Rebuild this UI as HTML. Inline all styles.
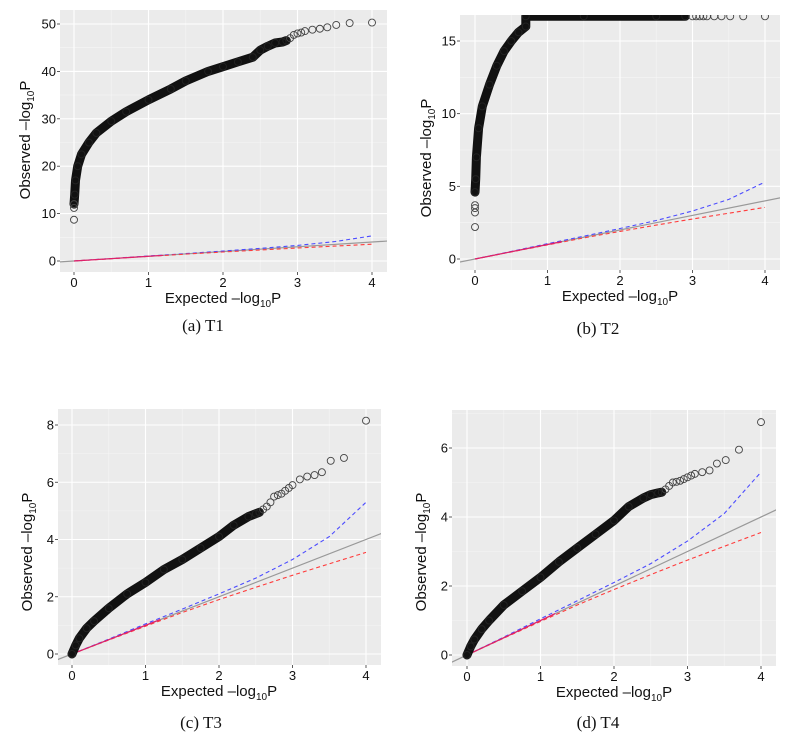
<!DOCTYPE html>
<html><head><meta charset="utf-8"><style>
body{margin:0;background:#fff;}
svg{display:block;}
</style></head><body>
<svg id="fig" width="793" height="738" xmlns="http://www.w3.org/2000/svg"></svg>
<script>
// ---- Data ----
const ciX = [0, 0.5, 1, 1.5, 2, 2.5, 3, 3.5, 4];
const ciUpper = [0, 0.52, 1.05, 1.57, 2.1, 2.65, 3.3, 4.1, 5.3];
const ciLower = [0, 0.49, 0.97, 1.45, 1.9, 2.33, 2.75, 3.15, 3.55];

const aBandX = [0, 0.01, 0.02, 0.05, 0.1, 0.2, 0.3, 0.5, 0.7, 1, 1.3, 1.5, 1.8, 2, 2.2, 2.4, 2.5, 2.6, 2.7, 2.8, 2.85];
const aBandY = [12, 14, 17, 20, 22.5, 25, 27, 29.5, 31.5, 34, 36.3, 38, 40, 41, 42, 43, 44.5, 45.3, 46, 46.2, 46.5];
const aTailX = [0, 0, 0, 2.9, 2.95, 3.0, 3.05, 3.1, 3.2, 3.3, 3.4, 3.52, 3.7, 4];
const aTailY = [8.7, 11.2, 12, 47, 47.7, 48, 48.2, 48.5, 48.8, 49, 49.3, 49.8, 50.2, 50.3];

const bBandX = [0, 0.01, 0.02, 0.05, 0.1, 0.2, 0.3, 0.4, 0.5, 0.6, 0.7, 0.7, 1.5, 2.5, 2.9];
const bBandY = [4.6, 5.5, 7, 9, 10.5, 12, 13.3, 14.3, 15, 15.6, 16, 16.7, 16.7, 16.7, 16.7];
const bTailX = [0, 0, 0, 0, 3.0, 3.05, 3.1, 3.15, 3.2, 3.3, 3.4, 3.52, 3.7, 4];
const bTailY = [2.2, 3.2, 3.5, 3.7, 16.7, 16.7, 16.7, 16.7, 16.7, 16.7, 16.7, 16.7, 16.7, 16.7];

const cBandX = [0, 0.05, 0.1, 0.2, 0.3, 0.5, 0.75, 1, 1.25, 1.5, 1.75, 2, 2.2, 2.4, 2.5, 2.55];
const cBandY = [0, 0.3, 0.55, 0.9, 1.15, 1.6, 2.1, 2.5, 2.95, 3.3, 3.7, 4.1, 4.5, 4.8, 4.9, 4.95];
const cTailX = [2.6, 2.65, 2.7, 2.75, 2.8, 2.85, 2.9, 2.95, 3.0, 3.1, 3.2, 3.3, 3.4, 3.52, 3.7, 4];
const cTailY = [5.05, 5.15, 5.3, 5.5, 5.55, 5.6, 5.7, 5.8, 5.9, 6.1, 6.2, 6.25, 6.35, 6.75, 6.85, 8.15];

const dBandX = [0, 0.05, 0.1, 0.2, 0.3, 0.5, 0.75, 1, 1.25, 1.5, 1.75, 2, 2.2, 2.4, 2.5, 2.6, 2.65];
const dBandY = [0, 0.25, 0.45, 0.75, 1.0, 1.45, 1.85, 2.25, 2.7, 3.1, 3.5, 3.9, 4.3, 4.55, 4.65, 4.7, 4.72];
const dTailX = [2.7, 2.75, 2.8, 2.85, 2.9, 2.95, 3.0, 3.05, 3.1, 3.2, 3.3, 3.4, 3.52, 3.7, 4];
const dTailY = [4.8, 4.9, 5.0, 5.02, 5.05, 5.1, 5.15, 5.2, 5.25, 5.3, 5.35, 5.55, 5.65, 5.95, 6.75];

const xTicks = [0, 1, 2, 3, 4];
const aYTicks = [0, 10, 20, 30, 40, 50];
const bYTicks = [0, 5, 10, 15];
const cYTicks = [0, 2, 4, 6, 8];
const dYTicks = [0, 2, 4, 6];

// ---- Rendering ----
const NS = "http://www.w3.org/2000/svg";
const svg = document.getElementById('fig');
function mk(tag, attrs, parent) {
  const e = document.createElementNS(NS, tag);
  for (const k in attrs) e.setAttribute(k, attrs[k]);
  (parent || svg).appendChild(e);
  return e;
}

const panels = [
  {id:'a', cap:'(a) T1', L:60, R:387, T:10, B:272, x0:74, x4:372, yv0:0, yp0:261, yv1:50, yp1:24,
   yt:aYTicks, minorY:5, bx:aBandX, by:aBandY, tx:aTailX, ty:aTailY, capY:331, capX:203, ytX:30, ytY:140},
  {id:'b', cap:'(b) T2', L:460, R:780, T:15, B:270, x0:475, x4:765, yv0:0, yp0:259, yv1:15, yp1:41,
   yt:bYTicks, minorY:2.5, bx:bBandX, by:bBandY, tx:bTailX, ty:bTailY, capY:334, capX:598, ytX:431, ytY:158},
  {id:'c', cap:'(c) T3', L:58, R:381, T:409, B:665, x0:72, x4:366, yv0:0, yp0:654, yv1:8, yp1:425,
   yt:cYTicks, minorY:1, bx:cBandX, by:cBandY, tx:cTailX, ty:cTailY, capY:728, capX:201, ytX:32, ytY:552},
  {id:'d', cap:'(d) T4', L:452, R:776, T:410, B:666, x0:467, x4:761, yv0:0, yp0:655, yv1:6, yp1:448,
   yt:dYTicks, minorY:1, bx:dBandX, by:dBandY, tx:dTailX, ty:dTailY, capY:728, capX:598, ytX:426, ytY:552}
];

panels.forEach(p => {
  const sx = v => p.x0 + (p.x4 - p.x0) * v / 4;
  const sy = v => p.yp0 + (p.yp1 - p.yp0) * (v - p.yv0) / (p.yv1 - p.yv0);
  const g = mk('g', {});
  
  
  const clipId = 'clip' + p.id;
  const cp = mk('clipPath', {id: clipId}, g);
  mk('rect', {x:p.L, y:p.T, width:p.R-p.L, height:p.B-p.T}, cp);
  const bg = mk('rect', {x:p.L, y:p.T, width:p.R-p.L, height:p.B-p.T, fill:'#ebebeb'}, g);
  
  
  const vMin = (p.L - p.x0) / (p.x4 - p.x0) * 4, vMax = (p.R - p.x0) / (p.x4 - p.x0) * 4;
  for (let v = -0.5; v <= 4.6; v += 1) {
    if (v < vMin || v > vMax) continue;
    mk('line', {x1:sx(v), x2:sx(v), y1:p.T, y2:p.B, stroke:'#f5f5f5', 'stroke-width':0.6}, g);
  }
  const yTop = p.yv0 + (p.T - p.yp0) / (p.yp1 - p.yp0) * (p.yv1 - p.yv0);
  for (let v = -p.minorY; v <= yTop; v += p.minorY * 2) {
    const yy = sy(v); if (yy < p.T || yy > p.B) continue;
    mk('line', {x1:p.L, x2:p.R, y1:yy, y2:yy, stroke:'#f5f5f5', 'stroke-width':0.6}, g);
  }
  xTicks.forEach(t => {
    mk('line', {x1:sx(t), x2:sx(t), y1:p.T, y2:p.B, stroke:'#fff', 'stroke-width':1.1}, g);
    mk('line', {x1:sx(t), x2:sx(t), y1:p.B, y2:p.B+3, stroke:'#333', 'stroke-width':0.8}, g);
    const tl = mk('text', {x:sx(t), y:p.B+15, 'text-anchor':'middle', 'font-size':13, fill:'#111', 'font-family':'Liberation Sans, sans-serif'}, g);
    tl.textContent = t;
    
    
  });
  p.yt.forEach(t => {
    mk('line', {x1:p.L, x2:p.R, y1:sy(t), y2:sy(t), stroke:'#fff', 'stroke-width':1.1}, g);
    mk('line', {x1:p.L-3, x2:p.L, y1:sy(t), y2:sy(t), stroke:'#333', 'stroke-width':0.8}, g);
    const tl = mk('text', {x:p.L-4, y:sy(t)+4.5, 'text-anchor':'end', 'font-size':13, fill:'#111', 'font-family':'Liberation Sans, sans-serif'}, g);
    tl.textContent = t;
    
    
  });
  const cg = mk('g', {'clip-path':'url(#'+clipId+')'}, g);
  const ref = mk('line', {x1:sx(-1), y1:sy(-1), x2:sx(5), y2:sy(5), stroke:'#999', 'stroke-width':1.2}, cg);
  
  
  const mkPath = (xs, ys) => xs.map((x, i) => (i ? 'L' : 'M') + sx(x).toFixed(1) + ',' + sy(ys[i]).toFixed(1)).join('');
  const up = mk('path', {d:mkPath(ciX, ciUpper), fill:'none', stroke:'#4b4bff', 'stroke-width':1.1, 'stroke-dasharray':'4,3'}, cg);
  
  
  const lo = mk('path', {d:mkPath(ciX, ciLower), fill:'none', stroke:'#ff3b3b', 'stroke-width':1.1, 'stroke-dasharray':'4,3'}, cg);
  
  
  const solid = mk('path', {d:mkPath([0, 1.2], [0, 1.2]), fill:'none', stroke:'#e0206a', 'stroke-width':1.2}, cg);
  
  
  const band = mk('path', {d:mkPath(p.bx, p.by), fill:'none', stroke:'#111', 'stroke-width':9, 'stroke-linecap':'round', 'stroke-linejoin':'round'}, cg);
  
  
  p.bx.forEach((x, i) => {
    const c = mk('circle', {cx:sx(x), cy:sy(p.by[i]), r:3.5, fill:'none', stroke:'#222', 'stroke-width':1}, cg);
    
    
  });
  p.tx.forEach((x, i) => {
    const c = mk('circle', {cx:sx(x), cy:sy(p.ty[i]), r:3.5, fill:'none', stroke:'#444', 'stroke-width':0.9}, cg);
    
    
  });
  const xt = mk('text', {x:(p.x0+p.x4)/2, y:p.B+31, 'text-anchor':'middle', 'font-size':15, fill:'#111', 'font-family':'Liberation Sans, sans-serif'}, g);
  xt.innerHTML = 'Expected \u2013log<tspan font-size="10" dy="4">10</tspan><tspan dy="-4">P</tspan>';
  
  
  const yt = mk('text', {x:0, y:0, 'text-anchor':'middle', 'font-size':15, fill:'#111', 'font-family':'Liberation Sans, sans-serif', transform:'translate('+p.ytX+','+p.ytY+') rotate(-90)'}, g);
  yt.innerHTML = 'Observed \u2013log<tspan font-size="10" dy="4">10</tspan><tspan dy="-4">P</tspan>';
  
  
  const cap = mk('text', {x:p.capX, y:p.capY, 'text-anchor':'middle', 'font-size':17, fill:'#111', 'font-family':'Liberation Serif, serif'}, g);
  cap.textContent = p.cap;
  
  
});
</script>
</body></html>
